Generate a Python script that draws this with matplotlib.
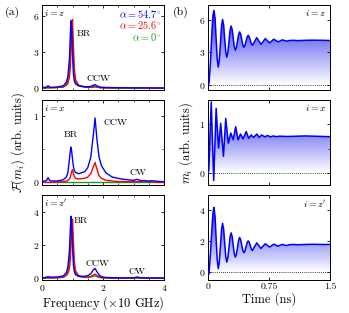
import numpy as np
import matplotlib
matplotlib.use("Agg")
import matplotlib.pyplot as plt
from matplotlib.colors import LinearSegmentedColormap
from matplotlib.ticker import MultipleLocator

plt.rcParams['font.family'] = 'serif'
plt.rcParams['font.serif'] = ['cmr10']
plt.rcParams['mathtext.fontset'] = 'cm'
plt.rcParams['axes.formatter.use_mathtext'] = True

# Spectra (frequency in units of 10 GHz)
freq = [0, 0.1, 0.15, 0.2, 0.25, 0.3, 0.5, 0.7, 0.8, 0.85, 0.9, 0.93, 0.95, 0.97, 1.0, 1.03,
        1.06, 1.1, 1.2, 1.4, 1.5, 1.6, 1.68, 1.74, 1.8, 1.87, 1.95, 2.1, 2.3, 2.6, 3.0, 3.12,
        3.25, 3.35, 3.5, 3.6, 3.8, 4.0]

Fz_547 = [0.05, 0.07, 0.1, 0.2, 0.1, 0.07, 0.1, 0.2, 0.5, 1.0, 2.5, 4.5, 5.6, 5.0, 2.8, 1.2,
          0.6, 0.35, 0.2, 0.12, 0.12, 0.14, 0.24, 0.3, 0.2, 0.12, 0.08, 0.06, 0.05, 0.04, 0.03,
          0.03, 0.03, 0.02, 0.02, 0.02, 0.02, 0.01]
Fz_256 = [0.02, 0.03, 0.03, 0.04, 0.04, 0.04, 0.06, 0.1, 0.25, 0.4, 0.9, 1.8, 3.0, 4.8, 5.7, 3.5,
          1.6, 0.7, 0.25, 0.1, 0.08, 0.08, 0.12, 0.15, 0.1, 0.06, 0.04, 0.03, 0.02, 0.02, 0.02,
          0.02, 0.02, 0.02, 0.02, 0.01, 0.01, 0.01]
Fz_0 = [0.02, 0.02, 0.03, 0.03, 0.03, 0.03, 0.05, 0.1, 0.3, 0.6, 1.5, 3.0, 4.5, 5.5, 4.5, 2.2,
        1.0, 0.5, 0.2, 0.08, 0.06, 0.06, 0.08, 0.1, 0.07, 0.05, 0.03, 0.02, 0.02, 0.01, 0.01,
        0.01, 0.01, 0.01, 0.01, 0.01, 0.01, 0.01]

Fx_547 = [0.02, 0.02, 0.03, 0.07, 0.03, 0.02, 0.02, 0.04, 0.08, 0.15, 0.35, 0.48, 0.53, 0.48,
          0.35, 0.24, 0.18, 0.15, 0.13, 0.16, 0.22, 0.38, 0.7, 0.97, 0.65, 0.38, 0.25, 0.14,
          0.08, 0.05, 0.03, 0.045, 0.025, 0.02, 0.02, 0.025, 0.015, 0.01]
Fx_256 = [0, 0, 0, 0, 0, 0, 0.005, 0.01, 0.02, 0.03, 0.05, 0.08, 0.12, 0.16, 0.19, 0.13, 0.09,
          0.06, 0.05, 0.06, 0.08, 0.13, 0.23, 0.30, 0.2, 0.1, 0.06, 0.03, 0.02, 0.01, 0.01, 0.01,
          0.015, 0.03, 0.01, 0.005, 0, 0]
Fx_0 = [0.0] * len(freq)

Fzp_547 = [0.03, 0.05, 0.08, 0.1, 0.08, 0.07, 0.08, 0.15, 0.35, 0.7, 1.7, 3.0, 3.72, 3.3, 1.9,
           0.8, 0.4, 0.22, 0.12, 0.12, 0.16, 0.28, 0.5, 0.6, 0.4, 0.2, 0.1, 0.05, 0.04, 0.03,
           0.03, 0.08, 0.03, 0.02, 0.02, 0.02, 0.02, 0.01]
Fzp_256 = [0.02, 0.02, 0.03, 0.03, 0.03, 0.03, 0.04, 0.07, 0.18, 0.3, 0.6, 1.2, 2.0, 3.2, 3.55,
           2.2, 1.0, 0.45, 0.15, 0.07, 0.08, 0.12, 0.2, 0.25, 0.17, 0.09, 0.05, 0.03, 0.02, 0.02,
           0.02, 0.03, 0.03, 0.04, 0.02, 0.01, 0.01, 0.01]
Fzp_0 = [0.02, 0.02, 0.02, 0.02, 0.02, 0.02, 0.03, 0.06, 0.2, 0.4, 1.0, 2.0, 2.9, 3.4, 2.8, 1.4,
         0.6, 0.3, 0.12, 0.05, 0.06, 0.08, 0.12, 0.15, 0.1, 0.05, 0.03, 0.02, 0.01, 0.01, 0.01,
         0.01, 0.01, 0.01, 0.01, 0.01, 0.01, 0.01]

# Time traces (ns)
t_z = [0, 0.012, 0.03, 0.05, 0.062, 0.074, 0.087, 0.1, 0.113, 0.126, 0.139, 0.153, 0.166, 0.179,
       0.192, 0.205, 0.218, 0.231, 0.244, 0.258, 0.271, 0.284, 0.297, 0.310, 0.323, 0.336, 0.349,
       0.363, 0.376, 0.389, 0.402, 0.415, 0.428, 0.441, 0.454, 0.468, 0.481, 0.494, 0.507, 0.520,
       0.533, 0.546, 0.573, 0.599, 0.625, 0.651, 0.678, 0.704, 0.730, 0.756, 0.783, 0.809, 0.835,
       0.861, 0.888, 0.914, 0.94, 0.966, 1.0, 1.05, 1.1, 1.2, 1.3, 1.4, 1.5]
m_z = [0, 0.1, 2.0, 5.2, 6.5, 6.9,
       6.13, 4.27, 2.40, 1.63,
       2.28, 3.85, 5.41, 6.06,
       5.55, 4.3, 3.06, 2.55,
       2.97, 4.0, 5.03, 5.45,
       5.12, 4.33, 3.53, 3.2,
       3.45, 4.05, 4.65, 4.9,
       4.69, 4.19, 3.69, 3.48,
       3.64, 4.03, 4.42, 4.58,
       4.45, 4.12, 3.79, 3.66,
       4.0, 4.37, 4.06, 3.75, 4.0, 4.28, 4.08, 3.88, 4.05, 4.22, 4.1, 3.97, 4.07, 4.16, 4.1, 4.04,
       4.1, 4.12, 4.09, 4.12, 4.13, 4.12, 4.1]
m_zp = [0, -0.1, 1.2, 3.0, 3.9, 4.19,
        3.61, 2.2, 0.82, 0.24,
        0.67, 1.7, 2.74, 3.17,
        2.8, 1.9, 1.03, 0.66,
        0.94, 1.6, 2.27, 2.55,
        2.32, 1.75, 1.21, 0.98,
        1.17, 1.6, 2.06, 2.25,
        2.11, 1.75, 1.40, 1.26,
        1.37, 1.65, 1.92, 2.03,
        1.94, 1.72, 1.50, 1.41,
        1.66, 1.9, 1.72, 1.54, 1.7, 1.84, 1.74, 1.63, 1.72, 1.82, 1.75, 1.69, 1.75, 1.8, 1.76,
        1.73, 1.78, 1.8, 1.78, 1.8, 1.81, 1.8, 1.8]
t_x = [0, 0.01, 0.025, 0.04, 0.07, 0.10, 0.13, 0.156, 0.19, 0.218, 0.25, 0.28, 0.31, 0.34, 0.37,
       0.40, 0.43, 0.47, 0.50, 0.53, 0.56, 0.60, 0.63, 0.66, 0.70, 0.73, 0.77, 0.80, 0.84, 0.88,
       0.95, 1.0, 1.1, 1.2, 1.3, 1.4, 1.5]
m_x = [0, 0.05, 0.8, 1.46, -0.16, 1.33, 0.51, 1.02, 0.34, 1.12, 0.61, 0.82, 0.68, 0.95, 0.68,
       0.80, 0.70, 0.85, 0.71, 0.78, 0.73, 0.80, 0.73, 0.78, 0.74, 0.77, 0.74, 0.76, 0.745, 0.755,
       0.75, 0.75, 0.755, 0.76, 0.755, 0.75, 0.745]

BLUE = (0.0, 0.0, 1.0)
RED = (1.0, 0.0, 0.0)
GREEN = (0.1, 0.6, 0.1)

W, H = 349, 313
fig = plt.figure(figsize=(W / 100, H / 100), dpi=100)

rows = [(5, 90), (100, 185), (195, 280)]


def make_ax(x0, row):
    top, bot = row
    return fig.add_axes([x0 / W, 1 - bot / H, 122 / W, (bot - top) / H])


def style(ax):
    ax.tick_params(direction='in', top=True, right=True, labelsize=7, length=2.5, width=0.6,
                   pad=2)
    ax.tick_params(which='minor', direction='in', top=True, right=True, length=1.5, width=0.5)
    for s in ax.spines.values():
        s.set_linewidth(0.7)


# left column: spectra
spectra = [
    (Fz_547, Fz_256, Fz_0, (-0.15, 6.9), [0, 3, 6], None, r'$i = z$'),
    (Fx_547, Fx_256, Fx_0, (-0.04, 1.24), [0, 1], 0.5, r'$i = x$'),
    (Fzp_547, Fzp_256, Fzp_0, (-0.1, 5.0), [0, 2, 4], None, r"$i = z'$"),
]
left_axes = []
for k, (b, r, g, yl, yt, ymin, lab) in enumerate(spectra):
    ax = make_ax(42, rows[k])
    ax.plot(freq, g, color=GREEN, lw=1.0)
    ax.plot(freq, r, color=RED, lw=1.0)
    ax.plot(freq, b, color=BLUE, lw=1.0)
    ax.set_xlim(0, 4)
    ax.set_ylim(*yl)
    ax.set_yticks(yt)
    if ymin:
        ax.yaxis.set_minor_locator(MultipleLocator(ymin))
    ax.set_xticks([0, 2, 4])
    ax.xaxis.set_minor_locator(MultipleLocator(0.5))
    style(ax)
    if k < 2:
        ax.set_xticklabels([])
    ax.text(0.02, 0.97, lab, transform=ax.transAxes, ha='left', va='top', fontsize=7)
    left_axes.append(ax)

ax = left_axes[0]
ax.text(1.12, 4.5, 'BR', fontsize=7, va='center')
ax.text(1.47, 0.75, 'CCW', fontsize=7, va='center')
ax.text(0.98, 0.97, r'$\alpha = 54.7^{\circ}$', color=BLUE, transform=ax.transAxes,
        ha='right', va='top', fontsize=7.5)
ax.text(0.98, 0.83, r'$\alpha = 25.6^{\circ}$', color=RED, transform=ax.transAxes,
        ha='right', va='top', fontsize=7.5)
ax.text(0.98, 0.69, r'$\alpha = 0^{\circ}$', color=GREEN, transform=ax.transAxes,
        ha='right', va='top', fontsize=7.5)

ax = left_axes[1]
ax.text(0.7, 0.71, 'BR', fontsize=7, va='center')
ax.text(2.0, 0.9, 'CCW', fontsize=7, va='center')
ax.text(2.88, 0.15, 'CW', fontsize=7, va='center')

ax = left_axes[2]
ax.text(1.05, 3.44, 'BR', fontsize=7, va='center')
ax.text(1.41, 0.86, 'CCW', fontsize=7, va='center')
ax.text(2.85, 0.4, 'CW', fontsize=7, va='center')
ax.set_xlabel(r'Frequency ($\times 10$ GHz)', fontsize=9, labelpad=1)

# right column: time traces with gradient fill
cmap = LinearSegmentedColormap.from_list('wb', [(1, 1, 1), (0.15, 0.15, 0.95)])
traces = [
    (t_z, m_z, (-0.5, 7.4), [0, 3, 6], None, r'$i = z$'),
    (t_x, m_x, (-0.25, 1.5), [0, 1], 0.5, r'$i = x$'),
    (t_z, m_zp, (-0.5, 5.0), [0, 2, 4], None, r"$i = z'$"),
]
right_axes = []
for k, (t, m, yl, yt, ymin, lab) in enumerate(traces):
    ax = make_ax(208, rows[k])
    ymax = max(m)
    poly = ax.fill_between(t, 0, m, facecolor='none', edgecolor='none')
    grad = np.linspace(0, 1, 256).reshape(-1, 1)
    im = ax.imshow(grad, cmap=cmap, origin='lower', aspect='auto',
                   extent=[0, 1.5, 0, ymax], zorder=1)
    im.set_clip_path(poly.get_paths()[0], transform=ax.transData)
    ax.axhline(0, color='k', ls=(0, (1, 1.5)), lw=0.6, zorder=2)
    ax.plot(t, m, color=BLUE, lw=1.1, zorder=3)
    ax.set_xlim(0, 1.5)
    ax.set_ylim(*yl)
    ax.set_yticks(yt)
    if ymin:
        ax.yaxis.set_minor_locator(MultipleLocator(ymin))
    ax.set_xticks([0, 0.75, 1.5])
    ax.set_xticklabels(['0', '0.75', '1.5'])
    style(ax)
    if k < 2:
        ax.set_xticklabels([])
    ax.text(0.97, 0.96, lab, transform=ax.transAxes, ha='right', va='top', fontsize=7)
    right_axes.append(ax)

right_axes[2].set_xlabel('Time (ns)', fontsize=9, labelpad=1)

fig.text(18 / W, 1 - 142.5 / H, r'$\mathcal{F}(m_i)$ (arb. units)', rotation=90,
         ha='center', va='center', fontsize=9)
fig.text(186 / W, 1 - 142.5 / H, r'$m_i$ (arb. units)', rotation=90,
         ha='center', va='center', fontsize=9)
fig.text(5 / W, 1 - 12 / H, '(a)', fontsize=8.5, va='center')
fig.text(173 / W, 1 - 12 / H, '(b)', fontsize=8.5, va='center')

fig.savefig('out.png', dpi=100)
